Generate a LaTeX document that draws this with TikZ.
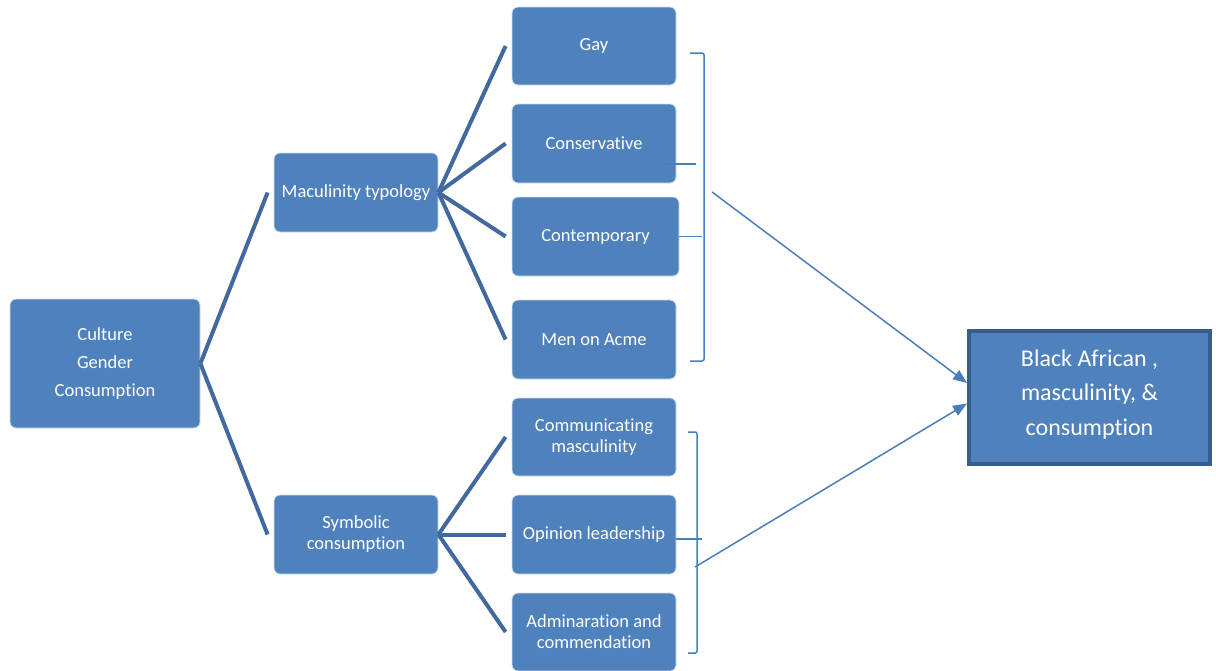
\documentclass[tikz,border=0pt]{standalone}
\usepackage{fontspec}
\setmainfont{Carlito}[Ligatures=NoCommon]
\usetikzlibrary{arrows.meta}
\definecolor{boxfill}{HTML}{4F81BD}
\definecolor{treeline}{RGB}{65,105,158}
\definecolor{thinline}{HTML}{4A7EBB}
\definecolor{darkborder}{HTML}{385D8A}
\begin{document}
\begin{tikzpicture}[x=1pt,y=-1pt,
  box/.style={fill=boxfill, draw=white!75!boxfill, line width=0.8pt, rounded corners=6pt,
    text=white, font=\fontsize{18.5}{21}\selectfont, align=center, inner sep=0pt,
    minimum width=164pt, minimum height=79pt},
  bigbox/.style={fill=boxfill, draw=darkborder, line width=4pt, text=white,
    font=\fontsize{24}{34.5}\selectfont, inner sep=0pt,
    minimum width=241pt, minimum height=133pt},
  tree/.style={draw=treeline, line width=4pt},
  thin/.style={draw=thinline, line width=1.5pt},
  arr/.style={thin, -{Triangle[length=14pt,width=11pt]}},
]
\useasboundingbox (0,0) rectangle (1216,670);

\node[box, minimum width=190pt, minimum height=129pt] (root) at (105,363.5)
  {Culture\\[7pt]Gender\\[7pt]Consumption};
\node[box] (mac) at (356,192.5) {Maculinity typology};
\node[box] (sym) at (356,534.5) {Symbolic\\consumption};

\node[box, minimum height=78pt] (gay) at (594,46) {Gay};
\node[box] (cons) at (594,143.5) {Conservative};
\node[box, minimum width=167pt] (cont) at (595.5,236.5) {Contemporary};
\node[box] (acme) at (594,339.5) {Men on Acme};
\node[box, minimum height=78pt] (comm) at (594,437) {Communicating\\masculinity};
\node[box] (opin) at (594,534.5) {Opinion leadership};
\node[box, minimum height=78pt] (adm) at (594,632) {Adminaration and\\commendation};

\node[bigbox] (res) at (1089.5,397.5)
  {\raisebox{3.5pt}[\height][\depth]{\begin{tabular}{@{}c@{}}Black African ,\\masculinity, \&\\consumption\end{tabular}}};

% tree connectors
\draw[tree] (root.east) -- ([xshift=-6pt]mac.west);
\draw[tree] (root.east) -- ([xshift=-6pt]sym.west);
\foreach \n in {gay,cons,cont,acme}
  \draw[tree] (mac.east) -- ([xshift=-6pt]\n.west |- \n.center);
\foreach \n in {comm,opin,adm}
  \draw[tree] (sym.east) -- ([xshift=-6pt]\n.west |- \n.center);

% upper bracket
\coordinate (u1) at (690,53);
\coordinate (u2) at (690,361);
\draw[thin, rounded corners=2pt] (u1) -- (704,53) -- (704,361) -- (u2);
\draw[thin] (663,164) -- (696,164);
\draw[thin] (cont.east) -- (702,236.5);
\coordinate (ua) at (712,192);

% lower bracket
\coordinate (l1) at (688,432);
\coordinate (l2) at (688,653);
\draw[thin, rounded corners=2pt] (l1) -- (697,432) -- (697,653) -- (l2);
\draw[thin] ([yshift=-4.5pt]opin.east) -- (702,539);
\coordinate (la) at (695,567);

% arrows to result
\draw[arr] (ua) -- ([yshift=14.5pt]res.west);
\draw[arr] (la) -- ([yshift=-6pt]res.west);
\end{tikzpicture}
\end{document}
